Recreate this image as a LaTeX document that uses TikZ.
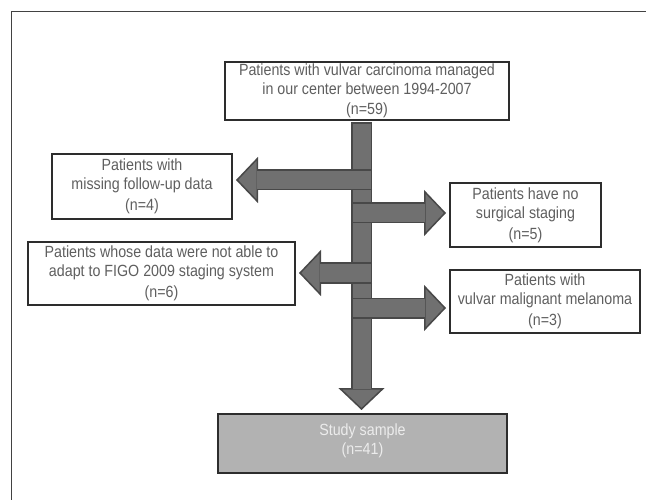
\documentclass[tikz,border=0pt]{standalone}
\usepackage{fontspec}
\setmainfont{Liberation Sans}[FakeStretch=0.88]
\usetikzlibrary{arrows.meta, positioning, calc}
\definecolor{edgegray}{RGB}{45,45,45}
\definecolor{textgray}{RGB}{95,95,95}
\definecolor{arrowgray}{RGB}{112,112,112}
\definecolor{arrowedge}{RGB}{72,72,72}
\definecolor{samplegray}{RGB}{178,178,178}
\definecolor{sampletext}{RGB}{236,236,236}

\begin{document}
\begin{tikzpicture}[x=1pt, y=-1pt,
  box/.style={draw=edgegray, line width=2pt, fill=white, text=textgray, align=center, inner sep=2pt, outer sep=0pt, font=\fontsize{16.2}{19}\selectfont},
  flowarrow/.style={line width=21pt, draw=arrowedge, -{Triangle[length=22pt, width=46pt, line width'=1.5pt, fill=arrowgray]}},
  flowshaft/.style={line width=18pt, draw=arrowgray}
]
  \useasboundingbox[fill=white] (0,0) rectangle (646,500);
  \draw[edgegray!90, line width=1pt] (646,12) -- (11,12) -- (11,500);

  \node[box, minimum width=284pt, minimum height=58pt] (top) at (367,91) {Patients with vulvar carcinoma managed\\ in our center between 1994-2007\\[1pt] (n=59)};
  \node[box, minimum width=180pt, minimum height=65pt] (miss) at (142,186.5) {Patients with\\ missing follow-up data\\[2pt] (n=4)};
  \node[box, minimum width=151pt, minimum height=64pt] (surg) at (525.5,215) {Patients have no\\ surgical staging\\[2pt] (n=5)};
  \node[box, minimum width=267pt, minimum height=63pt] (figo) at (161.5,273.5) {Patients whose data were not able to\\ adapt to FIGO 2009 staging system\\[2pt] (n=6)};
  \node[box, minimum width=190pt, minimum height=63pt] (melan) at (545,301.5) {Patients with\\ vulvar malignant melanoma\\[2pt] (n=3)};
  \node[box, fill=samplegray, text=sampletext, minimum width=289pt, minimum height=59pt] (sample) at (362.5,443.5) {Study sample\\ (n=41)\\[-10pt]\mbox{}};

  % main spine and side arrows
  \coordinate (spine) at (361.5,0);
  \draw[flowarrow, shorten <=2pt, shorten >=4pt] (top.south -| spine) -- (sample.north -| spine);
  \draw[flowshaft, shorten <=3.5pt, shorten >=25pt] (top.south -| spine) -- (sample.north -| spine);

  \coordinate (l1) at (372,180);
  \coordinate (l2) at (372,273);
  \coordinate (r1) at (351,213);
  \coordinate (r2) at (351,308);
  \foreach \s/\b/\a in {l1/miss/east, l2/figo/east, r1/surg/west, r2/melan/west} {
    \draw[flowarrow, shorten >=4pt] (\s) -- (\s -| \b.\a);
    \draw[flowshaft, shorten <=1.5pt, shorten >=25pt] (\s) -- (\s -| \b.\a);
  }
\end{tikzpicture}
\end{document}
